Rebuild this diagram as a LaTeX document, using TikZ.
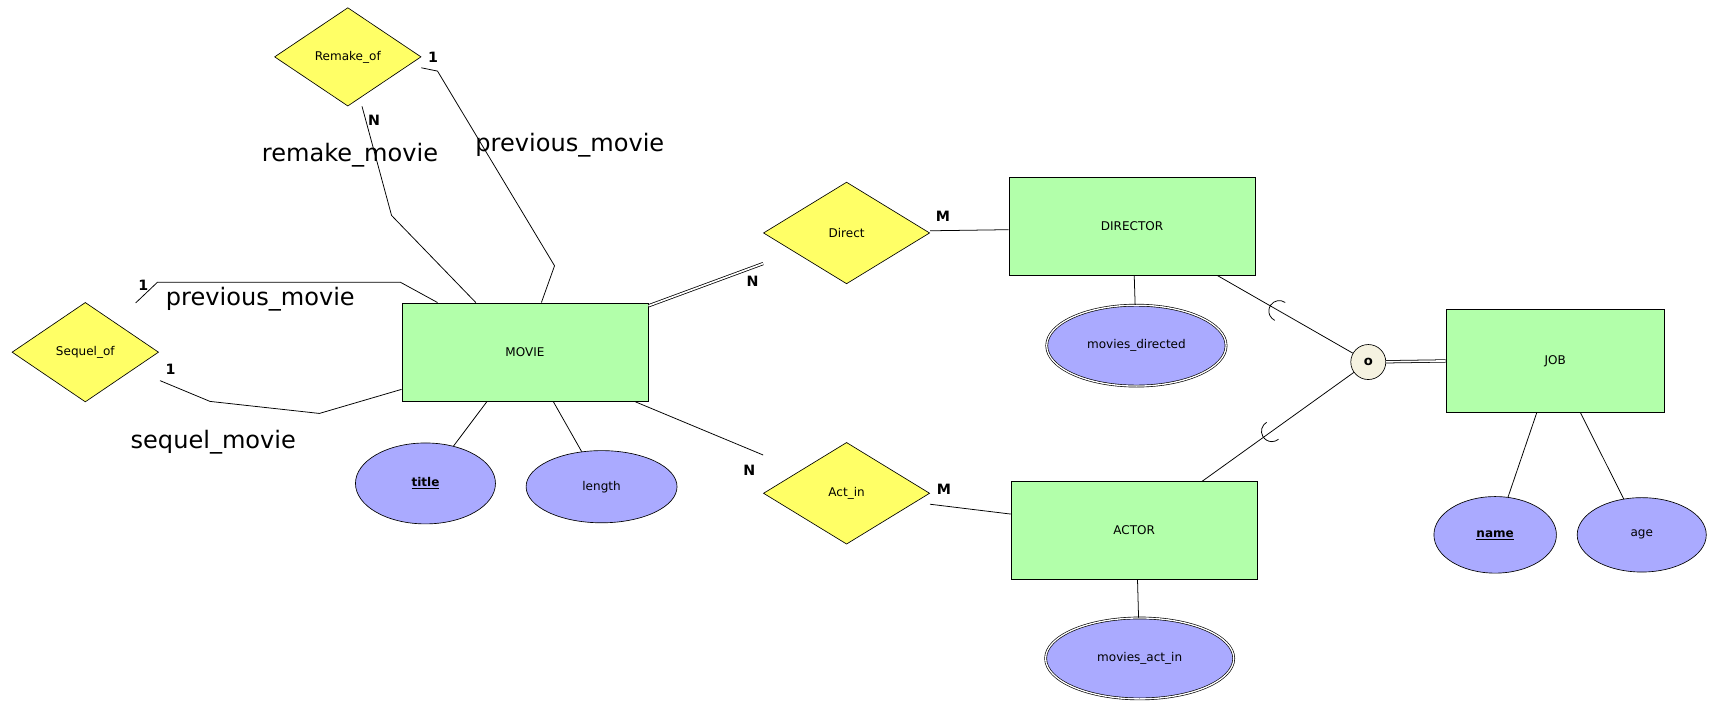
\documentclass[tikz,border=0pt]{standalone}
\usepackage{fontspec}
\setmainfont{DejaVu Sans}
\usepackage{tikz}
\usetikzlibrary{shapes.geometric,calc}
\definecolor{entgreen}{RGB}{178,255,170}
\definecolor{relyellow}{RGB}{255,255,102}
\definecolor{attrblue}{RGB}{170,170,255}
\definecolor{unionbeige}{RGB}{245,242,225}

\begin{document}
\begin{tikzpicture}[x=1pt, y=1pt,
    entity/.style={rectangle, draw, line width=0.8pt, fill=entgreen, minimum width=225pt, minimum height=89pt, font=\fontsize{11}{13}\selectfont},
    rel/.style={diamond, draw, line width=0.6pt, fill=relyellow, minimum width=152pt, minimum height=93pt, inner sep=0pt, font=\fontsize{11}{13}\selectfont},
    attr/.style={ellipse, draw, line width=0.6pt, fill=attrblue, inner sep=0pt, font=\fontsize{11}{13}\selectfont},
    multi/.style={attr, double, double distance=1.2pt},
    card/.style={font=\fontsize{13}{15}\selectfont\bfseries},
    role/.style={font=\fontsize{22}{26}\selectfont},
    link/.style={line width=0.7pt}]
    \useasboundingbox (0,0) rectangle (1568,657);
    % Nodes
    \node[rel, minimum width=134pt, minimum height=90pt] (remake) at (318,605) {Remake\_of};
    \node[rel, minimum width=134pt, minimum height=91pt] (sequel) at (78,335) {Sequel\_of};
    \node[entity, minimum height=90pt] (movie) at (480,335) {MOVIE};
    \node[attr, minimum width=128pt, minimum height=74pt] (title) at (389,215) {\textbf{\underline{title}}};
    \node[attr, minimum width=138pt, minimum height=66pt] (length) at (550,212) {length};
    \node[rel] (direct) at (774,444) {Direct};
    \node[rel] (actin) at (774,206) {Act\_in};
    \node[entity] (director) at (1035,450) {DIRECTOR};
    \node[entity] (actor) at (1037,172) {ACTOR};
    \node[multi, minimum width=164pt, minimum height=74pt] (mdir) at (1039,341) {movies\_directed};
    \node[multi, minimum width=172pt, minimum height=74pt] (mact) at (1042,55) {movies\_act\_in};
    \node[circle, draw, line width=0.6pt, fill=unionbeige, minimum size=32pt, inner sep=0pt, font=\fontsize{12}{14}\selectfont\bfseries] (o) at (1251,326) {o};
    \node[entity, minimum width=200pt, minimum height=94pt] (job) at (1422,327) {JOB};
    \node[attr, minimum width=112pt, minimum height=70pt] (name) at (1367,168) {\textbf{\underline{name}}};
    \node[attr, minimum width=118pt, minimum height=68pt] (age) at (1501,168) {age};
    % Labels
    \node[card] (remake-one) at (396,605) {1};
    \node[card] (remake-n) at (342,547) {N};
    \node[role] (remake-role) at (320,515) {remake\_movie};
    \node[role] (prev-role) at (521,524) {previous\_movie};
    \node[card] (sequel-top) at (131,396) {1};
    \node[role] (prev-role2) at (238,383) {previous\_movie};
    \node[card] (sequel-one) at (156,319) {1};
    \node[role] (sequel-role) at (195,253) {sequel\_movie};
    \node[card] (direct-n) at (688,400) {N};
    \node[card] (direct-m) at (862,459) {M};
    \node[card] (actin-n) at (685,227) {N};
    \node[card] (actin-m) at (863,210) {M};
    % Edges
    \draw[link] ([yshift=-10pt]remake.east) -- (400,592) -- (507,414) -- ([xshift=15pt]movie.north);
    \draw[link] ([xshift=13pt]remake.south) -- (358,460) -- ([xshift=-45pt]movie.north);
    \coordinate (prevend) at (124,380);
    \draw[link] ([xshift=-80pt]movie.north) -- (366,399) -- (144,399) -- (prevend);
    \draw[link] ([shift={(1pt,-26pt)}]sequel.east) -- (192,290) -- (292,279) -- ([yshift=-34pt]movie.west);
    \draw[link] (title) -- ([xshift=-35pt]movie.south);
    \draw[link] (length) -- ([xshift=26pt]movie.south);
    \draw[link, double, double distance=1.5pt] ([yshift=-3pt]movie.north east) -- ([yshift=-28pt]direct.west);
    \draw[link] ([yshift=2pt]direct.east) -- ([yshift=-3pt]director.west);
    \draw[link] ([xshift=2pt]director.south) -- (mdir);
    \coordinate (dirend) at ([xshift=78pt]director.south);
    \draw[link] (dirend) -- (o);
    \draw[link, double, double distance=1.5pt] (o) -- (job.west);
    \coordinate (actend) at ([xshift=62pt]actor.north);
    \draw[link] (o) -- (actend);
    \draw[link] ([xshift=3pt]actor.south) -- (mact);
    \draw[link] (name) -- ([xshift=-17pt]job.south);
    \draw[link] (age) -- ([xshift=23pt]job.south);
    \draw[link] ([xshift=101pt]movie.south) -- ([yshift=35pt]actin.west);
    \draw[link] ([yshift=-10pt]actin.east) -- ([yshift=15pt]actor.west);
    % Subset marks
    \coordinate (sub1) at ($(dirend)!0.41!(o)$);
    \coordinate (sub2) at ($(o)!0.58!(actend)$);
    \draw[link] ([shift={(55:9.5pt)}]sub1) arc[start angle=55, end angle=245, radius=9.5pt];
    \draw[link] ([shift={(120:9.5pt)}]sub2) arc[start angle=120, end angle=310, radius=9.5pt];
\end{tikzpicture}
\end{document}
